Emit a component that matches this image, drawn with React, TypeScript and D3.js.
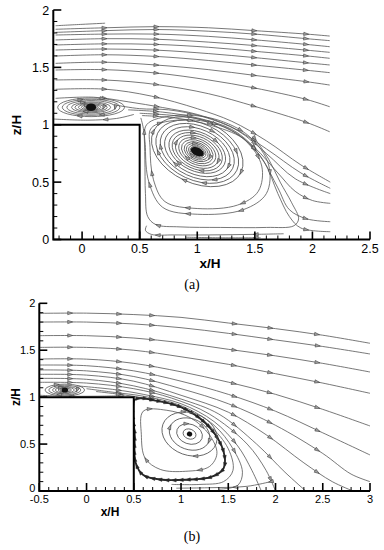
import React, { useEffect, useRef } from 'react'
import * as d3 from 'd3'

type Pt = [number, number]

// ---- panel (a) data, [x/H, z/H] ----
const xTicksA = [0, 0.5, 1, 1.5, 2, 2.5]
const zTicks = [0, 0.5, 1, 1.5, 2]
const arrowColsA = [0.2, 0.65, 1.5, 1.95]

const topLinesA: Pt[][] = [
  [[-0.23, 1.863], [0.0, 1.875], [0.2, 1.885]],
  [[-0.23, 1.832], [0.2, 1.845], [0.65, 1.855], [1.1, 1.845], [1.5, 1.82], [1.95, 1.79], [2.15, 1.773]],
  [[-0.23, 1.805], [0.2, 1.82], [0.65, 1.83], [1.1, 1.815], [1.5, 1.79], [1.95, 1.75], [2.15, 1.733]],
  [[-0.23, 1.782], [0.2, 1.79], [0.65, 1.79], [1.1, 1.77], [1.5, 1.74], [1.95, 1.7], [2.15, 1.68]],
  [[-0.23, 1.739], [0.2, 1.75], [0.65, 1.745], [1.1, 1.72], [1.5, 1.69], [1.95, 1.65], [2.15, 1.631]],
  [[-0.23, 1.695], [0.2, 1.705], [0.65, 1.7], [1.1, 1.675], [1.5, 1.64], [1.95, 1.6], [2.15, 1.579]],
  [[-0.23, 1.651], [0.2, 1.66], [0.65, 1.65], [1.1, 1.62], [1.5, 1.585], [1.95, 1.54], [2.15, 1.521]],
  [[-0.23, 1.599], [0.2, 1.61], [0.65, 1.595], [1.1, 1.56], [1.5, 1.52], [1.95, 1.475], [2.15, 1.454]],
  [[-0.23, 1.535], [0.2, 1.545], [0.65, 1.52], [1.1, 1.48], [1.5, 1.43], [1.95, 1.375], [2.15, 1.346]],
  [[-0.23, 1.477], [0.2, 1.48], [0.65, 1.45], [1.1, 1.39], [1.5, 1.32], [1.95, 1.22], [2.15, 1.157]],
  [[-0.23, 1.39], [0.2, 1.39], [0.65, 1.35], [1.1, 1.27], [1.5, 1.16], [1.95, 1.02], [2.15, 0.939]],
]

const shearLinesA: Pt[][] = [
  [[-0.23, 1.309], [0.2, 1.31], [0.6, 1.25], [1.0, 1.14], [1.3, 1.03], [1.6, 0.86], [1.9, 0.65], [2.155, 0.5]],
  [[-0.23, 1.23], [0.1, 1.24], [0.4, 1.2], [0.7, 1.15], [1.0, 1.09], [1.3, 0.98], [1.6, 0.79], [1.9, 0.58], [2.155, 0.446]],
  [[0.3, 1.17], [0.5, 1.14], [0.75, 1.13], [1.05, 1.07], [1.35, 0.95], [1.6, 0.75], [1.85, 0.53], [2.155, 0.4]],
  [[0.4, 1.13], [0.7, 1.11], [1.0, 1.06], [1.3, 0.96], [1.5, 0.8], [1.7, 0.58], [1.85, 0.42], [2.0, 0.34], [2.155, 0.315]],
  [[0.5, 1.1], [0.8, 1.08], [1.1, 1.03], [1.35, 0.92], [1.55, 0.72], [1.7, 0.45], [1.8, 0.26], [1.95, 0.18], [2.155, 0.155]],
  [[0.52, 1.08], [0.8, 1.06], [1.1, 1.0], [1.4, 0.88], [1.58, 0.68], [1.7, 0.4], [1.8, 0.2], [1.9, 0.1], [2.155, 0.068]],
  // separatrix along the wall and ground (reversed flow)
  [[1.5, 0.88], [1.62, 0.7], [1.72, 0.5], [1.82, 0.32], [1.88, 0.18], [1.84, 0.12], [1.6, 0.105], [1.2, 0.105], [0.85, 0.11], [0.64, 0.13], [0.57, 0.2], [0.55, 0.4], [0.545, 0.7], [0.535, 0.95], [0.51, 1.06]],
  [[1.75, 0.05], [1.5, 0.045], [1.1, 0.04], [0.8, 0.04], [0.6, 0.045], [0.55, 0.08], [0.56, 0.12]],
  [[1.55, 0.015], [1.2, 0.015], [0.9, 0.02]],
  [[0.45, 1.09], [0.3, 1.055], [0.05, 1.04], [-0.25, 1.05]],
]

const loopsA: Pt[][] = [
  [[0.56, 1.0], [0.8, 1.08], [1.15, 1.05], [1.45, 0.9], [1.62, 0.65], [1.6, 0.4], [1.4, 0.26], [1.0, 0.22], [0.7, 0.28], [0.58, 0.5], [0.55, 0.8]],
  [[0.6, 0.97], [0.82, 1.04], [1.15, 1.01], [1.42, 0.86], [1.56, 0.64], [1.53, 0.42], [1.35, 0.3], [1.0, 0.27], [0.72, 0.33], [0.62, 0.52], [0.59, 0.8]],
]

const vortexBigA = { cx: 1.0, cz: 0.765, rot: 25, ratio: 0.65, radii: [0.02, 0.035, 0.05, 0.065, 0.08, 0.1, 0.12, 0.145, 0.17, 0.2, 0.23, 0.26, 0.3, 0.34, 0.38, 0.42], blob: [7, 4] }
const vortexSmallA = { cx: 0.078, cz: 1.152, rot: 0, ratio: 0.28, radii: [0.012, 0.022, 0.035, 0.05, 0.065, 0.085, 0.11, 0.14, 0.17, 0.21, 0.25, 0.29], blob: [5, 3.8] }

// ---- panel (b) data ----
const xTicksB = [-0.5, 0, 0.5, 1, 1.5, 2, 2.5, 3]
const arrowColsB = [-0.17, 0.35, 0.7, 1.57, 1.95, 2.45]

const topLinesB: Pt[][] = [
  [[-0.5, 1.893], [0, 1.895], [0.5, 1.88], [1.0, 1.85], [1.5, 1.79], [2.0, 1.73], [2.5, 1.66], [3.0, 1.574]],
  [[-0.5, 1.8], [0, 1.8], [0.5, 1.78], [1.0, 1.74], [1.5, 1.68], [2.0, 1.61], [2.5, 1.54], [3.0, 1.46]],
  [[-0.5, 1.655], [0, 1.655], [0.5, 1.63], [1.0, 1.58], [1.5, 1.51], [2.0, 1.44], [2.5, 1.36], [3.0, 1.268]],
  [[-0.5, 1.53], [0, 1.53], [0.5, 1.5], [1.0, 1.43], [1.5, 1.35], [2.0, 1.25], [2.5, 1.15], [3.0, 1.041]],
  [[-0.5, 1.406], [0, 1.405], [0.5, 1.36], [1.0, 1.27], [1.5, 1.16], [2.0, 1.03], [2.5, 0.87], [3.0, 0.693]],
  [[-0.5, 1.342], [0, 1.335], [0.5, 1.28], [1.0, 1.17], [1.5, 1.03], [2.0, 0.85], [2.5, 0.62], [3.0, 0.384]],
  [[-0.5, 1.29], [0, 1.28], [0.5, 1.22], [1.0, 1.09], [1.5, 0.93], [2.0, 0.7], [2.5, 0.4], [2.8, 0.18], [3.0, 0.1]],
  [[-0.5, 1.243], [0, 1.235], [0.5, 1.17], [1.0, 1.02], [1.5, 0.84], [1.9, 0.6], [2.3, 0.3], [2.6, 0.1], [2.82, 0.0]],
  [[-0.5, 1.2], [0, 1.19], [0.5, 1.12], [1.0, 0.98], [1.4, 0.82], [1.8, 0.5], [2.1, 0.2], [2.32, 0.0]],
  [[-0.5, 1.158], [0, 1.15], [0.5, 1.09], [0.9, 0.99], [1.3, 0.82], [1.7, 0.5], [1.9, 0.22], [2.0, 0.0]],
  [[-0.1, 1.12], [0.3, 1.08], [0.6, 1.03], [1.0, 0.93], [1.35, 0.74], [1.6, 0.48], [1.75, 0.22], [1.85, 0.0]],
  [[0.0, 1.09], [0.3, 1.05], [0.6, 1.01], [1.0, 0.91], [1.35, 0.7], [1.55, 0.45], [1.65, 0.2], [1.6, 0.06], [1.4, 0.02]],
  [[0.1, 1.06], [0.35, 1.03], [0.6, 0.99], [1.0, 0.89], [1.3, 0.7], [1.5, 0.45], [1.55, 0.22], [1.45, 0.1], [1.2, 0.07], [0.9, 0.07]],
  [[1.95, 0.1], [1.7, 0.05], [1.3, 0.035], [0.95, 0.03]],
  [[0.4, 1.015], [0.1, 1.01], [-0.2, 1.01], [-0.5, 1.02]],
]

const loopsB: Pt[][] = [
  [[0.51, 0.97], [0.75, 0.96], [1.05, 0.87], [1.3, 0.68], [1.45, 0.42], [1.45, 0.24], [1.32, 0.15], [1.05, 0.12], [0.8, 0.12], [0.6, 0.17], [0.52, 0.3], [0.51, 0.6]],
  [[0.6, 0.85], [0.85, 0.86], [1.1, 0.78], [1.3, 0.6], [1.38, 0.4], [1.3, 0.26], [1.05, 0.21], [0.78, 0.23], [0.62, 0.35], [0.58, 0.6]],
]

const vortexBigB = { cx: 1.09, cz: 0.607, rot: 20, ratio: 0.75, radii: [0.025, 0.07, 0.14, 0.22, 0.3], blob: [2.6, 2.4] }
const vortexSmallB = { cx: -0.23, cz: 1.076, rot: 0, ratio: 0.3, radii: [0.01, 0.02, 0.035, 0.05, 0.07, 0.1, 0.13, 0.17, 0.21], blob: [3.2, 2.6] }

const LINE = '#555'

type Vortex = { cx: number; cz: number; rot: number; ratio: number; radii: number[]; blob: number[] }

type Panel = {
  x0: number; x1: number; left: number; right: number; top: number; bottom: number
  xTicks: number[]; arrowCols: number[]; tickFont: number; titleFont: number
  xLabelY: number; zeroLift: number; xTitle: [number, number]; zTitle: [number, number]
  caption: string; captionY: number
  topLines: Pt[][]; extraLines: Pt[][]; loops: Pt[][]; vortices: Vortex[]
  thickLoop: boolean
}

const panels: Panel[] = [
  {
    x0: -0.25, x1: 2.5, left: 53.3, right: 370, top: 10, bottom: 239.5,
    xTicks: xTicksA, arrowCols: arrowColsA, tickFont: 12.5, titleFont: 13.5,
    xLabelY: 253, zeroLift: 0, xTitle: [210, 268], zTitle: [16, 125], caption: '(a)', captionY: 289,
    topLines: topLinesA, extraLines: shearLinesA, loops: loopsA, vortices: [vortexBigA, vortexSmallA],
    thickLoop: false,
  },
  {
    x0: -0.5, x1: 3, left: 39.3, right: 370, top: 303.3, bottom: 491,
    xTicks: xTicksB, arrowCols: arrowColsB, tickFont: 11, titleFont: 12,
    xLabelY: 503, zeroLift: 3, xTitle: [110, 516], zTitle: [16, 397], caption: '(b)', captionY: 541,
    topLines: topLinesB, extraLines: [], loops: loopsB, vortices: [vortexBigB, vortexSmallB],
    thickLoop: true,
  },
]

const arrowPath = 'M-2.6,-1.7L2.4,0L-2.6,1.7Z'

const addArrow = (g: any, p: DOMPoint, q: DOMPoint, dark = false) => {
  const ang = (Math.atan2(q.y - p.y, q.x - p.x) * 180) / Math.PI
  g.append('path')
    .attr('d', arrowPath)
    .attr('transform', `translate(${p.x},${p.y}) rotate(${ang})`)
    .attr('fill', dark ? '#222' : '#a0a0a0')
    .attr('stroke', '#333')
    .attr('stroke-width', 0.5)
}

const drawPanel = (svg: any, P: Panel, idx: number) => {
  const x = d3.scaleLinear().domain([P.x0, P.x1]).range([P.left, P.right])
  const z = d3.scaleLinear().domain([0, 2]).range([P.bottom, P.top])
  const kx = x(1) - x(0)
  const kz = z(0) - z(1)

  const clipId = `clip${idx}`
  svg.append('clipPath').attr('id', clipId)
    .append('rect').attr('x', P.left).attr('y', P.top).attr('width', P.right - P.left).attr('height', P.bottom - P.top)

  const g = svg.append('g').attr('clip-path', `url(#${clipId})`)

  const line = d3.line<Pt>().x(d => x(d[0])).y(d => z(d[1])).curve(d3.curveCatmullRom.alpha(0.5))
  const closed = d3.line<Pt>().x(d => x(d[0])).y(d => z(d[1])).curve(d3.curveCatmullRomClosed.alpha(0.5))

  // open streamlines, arrows where they cross the arrow columns
  const cols = P.arrowCols.map(c => x(c))
  ;[...P.topLines, ...P.extraLines].forEach(pts => {
    const path = g.append('path').attr('d', line(pts)).attr('fill', 'none')
      .attr('stroke', LINE).attr('stroke-width', 0.8)
    const node = path.node() as SVGPathElement
    const len = node.getTotalLength()
    const done = new Set<number>()
    let prev = node.getPointAtLength(0)
    for (let s = 1; s <= len; s += 1) {
      const cur = node.getPointAtLength(s)
      cols.forEach((c, i) => {
        if (!done.has(i) && (prev.x - c) * (cur.x - c) <= 0 && prev.x !== cur.x) {
          done.add(i)
          addArrow(g, prev, node.getPointAtLength(Math.min(len, s + 1)))
        }
      })
      prev = cur
    }
  })

  // closed recirculation loops
  P.loops.forEach((pts, i) => {
    const thick = P.thickLoop && i === 0
    const path = g.append('path').attr('d', closed(pts)).attr('fill', 'none')
      .attr('stroke', thick ? '#222' : LINE)
      .attr('stroke-width', thick ? 1.8 : 0.8)
    const node = path.node() as SVGPathElement
    const len = node.getTotalLength()
    const n = thick ? Math.floor(len / 7) : Math.max(2, Math.floor(len / 50))
    for (let k = 0; k < n; k++) {
      const s = ((k + 0.3 + i * 0.4) / n) * len
      addArrow(g, node.getPointAtLength(s), node.getPointAtLength(Math.min(len, s + 1)), thick)
    }
  })

  // vortex rings
  P.vortices.forEach(v => {
    const vg = g.append('g').attr('transform', `translate(${x(v.cx)},${z(v.cz)}) rotate(${v.rot})`)
    v.radii.forEach((r, i) => {
      const e = vg.append('ellipse').attr('rx', r * kx).attr('ry', r * v.ratio * kz)
        .attr('fill', 'none').attr('stroke', LINE).attr('stroke-width', 0.8)
      const node = e.node() as SVGEllipseElement
      const len = node.getTotalLength()
      if (len < 40) return
      const n = Math.max(1, Math.floor(len / 55))
      for (let k = 0; k < n; k++) {
        const s = ((k + (i % 3) * 0.33) / n) * len
        addArrow(vg, node.getPointAtLength(s), node.getPointAtLength((s + 1) % len))
      }
    })
    vg.append('ellipse').attr('rx', v.blob[0]).attr('ry', v.blob[1]).attr('fill', '#111')
  })

  // obstacle block
  svg.append('path')
    .attr('d', `M${x(P.x0)},${z(1)}L${x(0.5)},${z(1)}L${x(0.5)},${z(0)}L${x(P.x0)},${z(0)}Z`)
    .attr('fill', '#fff').attr('stroke', 'none')
  svg.append('path')
    .attr('d', `M${x(P.x0)},${z(1)}L${x(0.5)},${z(1)}L${x(0.5)},${z(0)}`)
    .attr('fill', 'none').attr('stroke', '#000').attr('stroke-width', 2)

  // axes
  const ax = svg.append('g')
  ax.append('path')
    .attr('d', `M${P.left},${P.top}V${P.bottom}H${P.right}`)
    .attr('fill', 'none').attr('stroke', '#000').attr('stroke-width', 2)

  const xMinor = d3.range(Math.ceil(P.x0 * 10), Math.floor(P.x1 * 10) + 1).map(v => v / 10)
  xMinor.forEach(v => {
    const major = P.xTicks.some(t => Math.abs(t - v) < 1e-6)
    ax.append('line').attr('x1', x(v)).attr('x2', x(v)).attr('y1', P.bottom)
      .attr('y2', P.bottom - (major ? 8 : 4)).attr('stroke', '#000').attr('stroke-width', major ? 1.6 : 1)
  })
  d3.range(0, 21).map(v => v / 10).forEach(v => {
    const major = zTicks.some(t => Math.abs(t - v) < 1e-6)
    ax.append('line').attr('y1', z(v)).attr('y2', z(v)).attr('x1', P.left)
      .attr('x2', P.left + (major ? 8 : 4)).attr('stroke', '#000').attr('stroke-width', major ? 1.6 : 1)
  })

  const font = 'Liberation Sans, Arial, sans-serif'
  ax.selectAll('.xl').data(P.xTicks).join('text')
    .attr('x', (d: number) => x(d)).attr('y', P.xLabelY)
    .attr('text-anchor', 'middle').attr('font-family', font).attr('font-size', P.tickFont)
    .text((d: number) => String(d))
  ax.selectAll('.zl').data(zTicks).join('text')
    .attr('x', P.left - 4).attr('y', (d: number) => z(d) + P.tickFont * 0.36 - (d === 0 ? P.zeroLift : 0))
    .attr('text-anchor', 'end').attr('font-family', font).attr('font-size', P.tickFont)
    .text((d: number) => String(d))

  ax.append('text').attr('x', P.xTitle[0]).attr('y', P.xTitle[1])
    .attr('text-anchor', 'middle').attr('font-family', font).attr('font-weight', 'bold')
    .attr('font-size', P.titleFont).text('x/H')
  ax.append('text')
    .attr('transform', `translate(${P.zTitle[0]},${P.zTitle[1]}) rotate(-90)`)
    .attr('y', P.titleFont * 0.36)
    .attr('text-anchor', 'middle').attr('font-family', font).attr('font-weight', 'bold')
    .attr('font-size', P.titleFont).text('z/H')

  svg.append('text').attr('x', 192).attr('y', P.captionY).attr('text-anchor', 'middle')
    .attr('font-family', 'Liberation Serif, Times New Roman, serif').attr('font-size', 14)
    .text(P.caption)
}

const App = () => {
  const svgRef = useRef<SVGSVGElement>(null)

  useEffect(() => {
    const svg = d3.select(svgRef.current)
    svg.selectAll('*').remove()
    panels.forEach((p, i) => drawPanel(svg, p, i))
  }, [])

  return (
    <svg
      ref={svgRef}
      width={384}
      height={550}
      style={{ position: 'absolute', left: 0, top: 0, background: '#fff' }}
    />
  )
}

export default App
